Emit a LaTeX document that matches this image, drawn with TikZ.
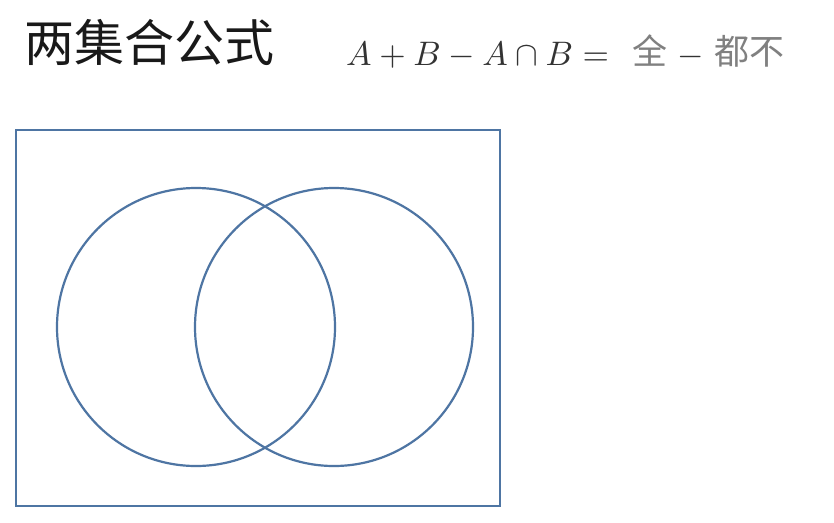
\documentclass[tikz,border=0pt]{standalone}
\usepackage{graphicx}
\usepackage{fontspec}
\newfontfamily\cjk{Noto Sans CJK SC}
\definecolor{venn}{HTML}{4E75A3}
\definecolor{formula}{HTML}{333333}
\definecolor{cjkgray}{HTML}{808080}
\begin{document}
\begin{tikzpicture}[x=1pt,y=-1pt,
  title/.style={anchor=base west,inner sep=0pt,font=\cjk\fontsize{50}{54}\selectfont,text=black!90},
  mathpart/.style={anchor=base west,inner sep=0pt,font=\normalsize,text=formula},
  cjkpart/.style={anchor=base west,inner sep=0pt,font=\cjk\fontsize{35}{40}\selectfont,text=cjkgray},
  vennline/.style={draw=venn,line width=2.2pt}]
\useasboundingbox (0,0) rectangle (834,522);
\fill[white] (0,0) rectangle (834,522);
\node[title] (title) at (24,61) {两集合公式};
\node[mathpart] (lhs) at (346,65) {\scalebox{3.4}{$A+B-A\cap B=$}};
\node[cjkpart] (all) at (632,64) {全};
\node[mathpart] (minus) at (677,65) {\scalebox{3.4}{$-$}};
\node[cjkpart] (none) at (714,64) {都不};
\node[vennline,rectangle,minimum width=484pt,minimum height=376pt,inner sep=0pt] (univ) at (258,318) {};
\node[vennline,circle,minimum size=278pt,inner sep=0pt] (setA) at (196,327) {};
\node[vennline,circle,minimum size=278pt,inner sep=0pt] (setB) at (334,327) {};
\end{tikzpicture}
\end{document}
